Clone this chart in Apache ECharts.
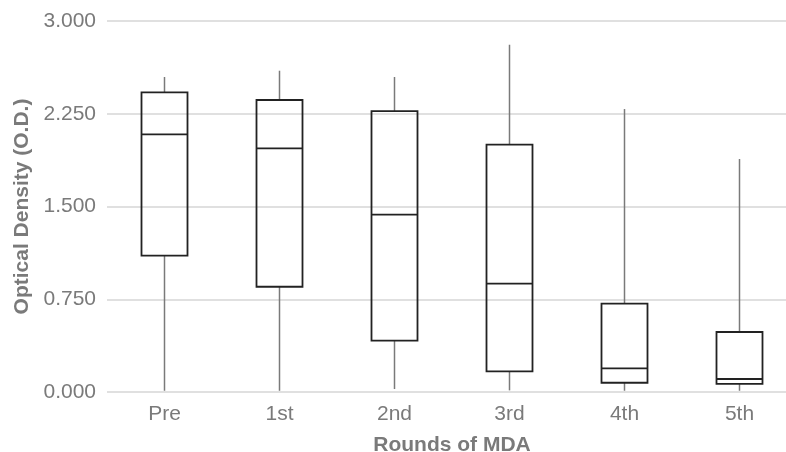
<!DOCTYPE html>
<html>
<head>
<meta charset="utf-8">
<script src="https://cdn.jsdelivr.net/npm/echarts@6/dist/echarts.min.js"></script>
<style>
    html, body { margin: 0; padding: 0; background: #fff; }
    #chart { width: 786px; height: 452px; }
</style>
</head>
<body>
<div id="chart"></div>
<script>
var rounds = ["Pre", "1st", "2nd", "3rd", "4th", "5th"];
var lowVals = [0.01, 0.01, 0.024, 0.013, 0.01, 0.01];
var q1Vals = [1.102, 0.851, 0.415, 0.167, 0.075, 0.065];
var medVals = [2.083, 1.970, 1.434, 0.876, 0.191, 0.105];
var q3Vals = [2.423, 2.361, 2.272, 2.000, 0.714, 0.485];
var highVals = [2.547, 2.598, 2.547, 2.808, 2.288, 1.884];
var yTicks = [0, 0.75, 1.5, 2.25, 3];

(function() {
    let myChart = echarts.init(document.getElementById("chart"));
    // box only: whisker ends pinned to the box edges, whiskers drawn separately in grey
    let boxData = rounds.map(function(r, i) {
        return [q1Vals[i], q1Vals[i], medVals[i], q3Vals[i], q3Vals[i]];
    });
    let whiskerData = rounds.map(function(r, i) {
        return [i, lowVals[i], q1Vals[i], q3Vals[i], highVals[i]];
    });
    let option = {
        animation: false,
        grid: {
            left: 107,
            top: 21,
            right: -11,
            bottom: 60,
            outerBoundsMode: "none",
            containLabel: false
        },
        xAxis: {
            type: "category",
            data: rounds,
            name: "Rounds of MDA",
            nameLocation: "middle",
            nameGap: 43,
            nameTextStyle: {
                color: "#7a7a7a",
                fontSize: 21,
                fontWeight: "bold",
                fontFamily: "Liberation Sans"
            },
            axisLine: { show: false },
            axisTick: { show: false },
            axisLabel: {
                color: "#7a7a7a",
                fontSize: 21,
                margin: 12,
                fontFamily: "Liberation Sans"
            }
        },
        yAxis: {
            type: "value",
            min: yTicks[0],
            max: yTicks[yTicks.length - 1],
            interval: yTicks[1] - yTicks[0],
            name: "Optical Density (O.D.)",
            nameLocation: "middle",
            nameGap: 72,
            nameTextStyle: {
                color: "#7a7a7a",
                fontSize: 21,
                fontWeight: "bold",
                fontFamily: "Liberation Sans"
            },
            axisLine: { show: false },
            axisTick: { show: false },
            axisLabel: {
                color: "#7a7a7a",
                fontSize: 21,
                margin: 11,
                fontFamily: "Liberation Sans",
                formatter: function(v) {
                    return v.toFixed(3);
                }
            },
            splitLine: {
                lineStyle: {
                    color: "#e0e0e0",
                    width: 2
                }
            }
        },
        series: [{
            type: "custom",
            data: whiskerData,
            z: 1,
            renderItem: function(params, api) {
                let x = api.value(0);
                let lo = api.coord([x, api.value(1)]);
                let b = api.coord([x, api.value(2)]);
                let t = api.coord([x, api.value(3)]);
                let hi = api.coord([x, api.value(4)]);
                let st = { stroke: "#7a7a7a", lineWidth: 1.5 };
                return {
                    type: "group",
                    children: [{
                        type: "line",
                        shape: { x1: lo[0], y1: lo[1], x2: b[0], y2: b[1] },
                        style: st
                    }, {
                        type: "line",
                        shape: { x1: t[0], y1: t[1], x2: hi[0], y2: hi[1] },
                        style: st
                    }]
                };
            }
        }, {
            type: "boxplot",
            data: boxData,
            z: 2,
            boxWidth: [46, 46],
            itemStyle: {
                color: "rgba(0,0,0,0)",
                borderColor: "#222222",
                borderWidth: 1.8
            }
        }]
    };
    myChart.setOption(option);
    window.addEventListener("resize", function() {
        myChart.resize();
    });
})();
</script>
</body>
</html>
